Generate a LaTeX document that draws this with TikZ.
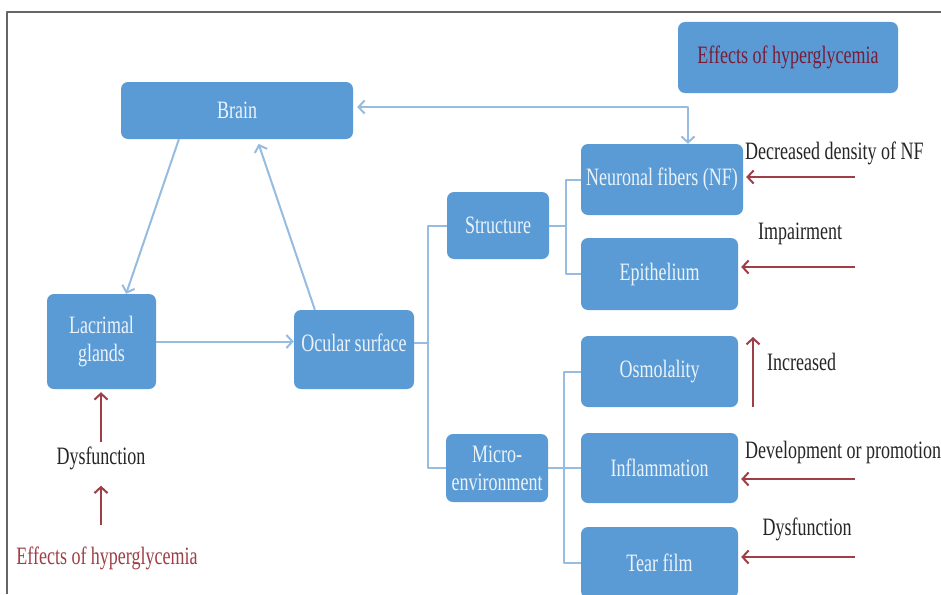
\documentclass[tikz,border=0pt]{standalone}
\usepackage{fontspec}
\setmainfont[FakeStretch=0.72]{Liberation Serif}
\usetikzlibrary{arrows.meta,calc}
\definecolor{boxblue}{RGB}{91,155,213}
\definecolor{linkblue}{RGB}{150,188,224}
\definecolor{causered}{RGB}{158,62,70}
\definecolor{effred}{RGB}{120,28,55}
\begin{document}
\begin{tikzpicture}[x=1pt,y=-1pt,line join=round,
  box/.style={fill=boxblue,rounded corners=7pt,text=white!88!boxblue,align=center,
    font=\fontsize{25}{28}\selectfont,inner sep=0pt},
  link/.style={draw=linkblue,line width=2pt},
  tip/.style={-{Straight Barb[length=6pt,width=13pt]}},
  cause/.style={draw=causered,line width=2pt,-{Straight Barb[length=6pt,width=13pt]}},
  note/.style={font=\fontsize{25}{28}\selectfont,text=black!85,inner sep=4pt}]
  \clip (0,0) rectangle (941,594);
  \fill[white] (0,0) rectangle (941,594);
  \draw[black!60,line width=2pt] (941,12) -- (7,12) -- (7,594);
  % boxes
  \node[box,minimum width=232pt,minimum height=57pt] (brain) at (237,110.5) {Brain};
  \node[box,minimum width=220pt,minimum height=71pt,text=effred] (effects) at (788,57.5) {Effects of hyperglycemia};
  \node[box,minimum width=109pt,minimum height=95pt] (lacrimal) at (101.5,341.5) {Lacrimal\\glands};
  \node[box,minimum width=120pt,minimum height=79pt] (ocular) at (354,349.5) {\raisebox{7pt}[\height][\depth]{Ocular surface}};
  \node[box,minimum width=102pt,minimum height=67pt] (structure) at (498,225.5) {Structure};
  \node[box,minimum width=102pt,minimum height=68pt] (micro) at (497,468) {Micro-\\environment};
  \node[box,minimum width=162pt,minimum height=71pt] (nf) at (662,179.5) {Neuronal fibers (NF)};
  \node[box,minimum width=157pt,minimum height=72pt] (epi) at (659.5,274) {Epithelium};
  \node[box,minimum width=157pt,minimum height=71pt] (osmo) at (659.5,371.5) {Osmolality};
  \node[box,minimum width=157pt,minimum height=70pt] (inflam) at (659.5,468) {Inflammation};
  \node[box,minimum width=157pt,minimum height=71pt] (tear) at (659.5,562.5) {Tear film};
  % loop of the brain
  \draw[link,tip] ($(brain.south west)!0.25!(brain.south east)$)
    -- ($(lacrimal.north west)!0.725!(lacrimal.north east)$);
  \draw[link,tip,shorten >=5pt] ($(ocular.north west)!0.175!(ocular.north east)$)
    -- ($(brain.south west)!0.586!(brain.south east)$);
  \draw[link,tip] (lacrimal.east) -- (lacrimal.east -| ocular.west);
  \draw[link,{Straight Barb[length=6pt,width=13pt]}-{Straight Barb[length=6pt,width=13pt]},shorten <=4pt]
    ([yshift=3.5pt]brain.east) -| ($(nf.north west)!0.66!(nf.north east)$);
  % tree
  \draw[link] ([yshift=7pt]ocular.east) -- ++(14,0) coordinate (oj);
  \draw[link] (structure.west) -| (oj) |- (micro.west);
  \draw[link] (structure.east) -- ++(17,0) coordinate (sj);
  \draw[link] (nf.west) -| (sj) |- (epi.west);
  \draw[link] (micro.east) -- ++(16,0) coordinate (mj);
  \draw[link] (osmo.west) -| (mj) |- (tear.west);
  \draw[link] (mj) -- (inflam.west);
  % effects on the right
  \node[note,anchor=west] (nfnote) at (741,153) {Decreased density of NF};
  \node[note] (epinote) at (800,234) {Impairment};
  \node[note,anchor=west] (osmonote) at (763,362) {Increased};
  \node[note,anchor=west] (inflamnote) at (741,452) {Development or promotion};
  \node[note] (tearnote) at (807,529) {Dysfunction};
  \coordinate (nfsrc) at (855,177);
  \coordinate (episrc) at (855,267);
  \coordinate (osmosrc) at (753,407);
  \coordinate (osmotip) at (753,337);
  \coordinate (inflamsrc) at (855,479);
  \coordinate (tearsrc) at (855,557);
  \draw[cause,shorten >=3pt] (nfsrc) -- (nfsrc -| nf.east);
  \draw[cause,shorten >=3pt] (episrc) -- (episrc -| epi.east);
  \draw[cause] (osmosrc) -- (osmotip);
  \draw[cause,shorten >=3pt] (inflamsrc) -- (inflamsrc -| inflam.east);
  \draw[cause,shorten >=3pt] (tearsrc) -- (tearsrc -| tear.east);
  % effects on the lacrimal glands
  \node[note] (dys) at (101,458) {Dysfunction};
  \node[note,text=causered] (hyper) at (107,558) {Effects of hyperglycemia};
  \draw[cause,shorten >=3pt] (dys.north) -- (dys.north |- lacrimal.south);
  \draw[cause,shorten <=17pt,shorten >=12pt] (dys.south |- hyper.north) -- (dys.south);
\end{tikzpicture}
\end{document}
